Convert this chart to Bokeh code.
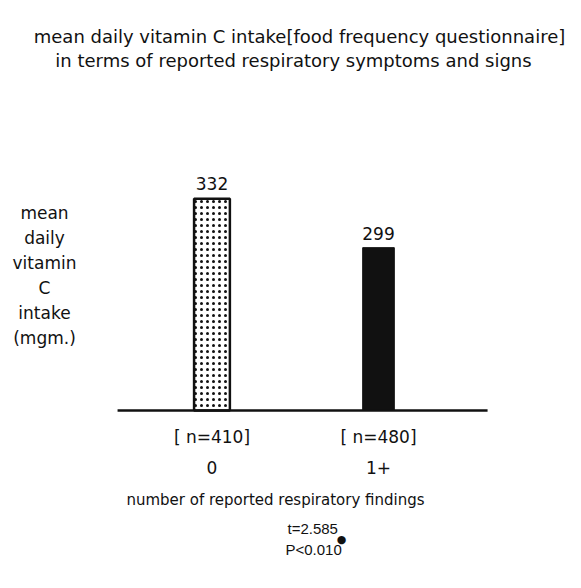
from bokeh.plotting import figure
from bokeh.models import Range1d, Label, ColumnDataSource
from bokeh.core.properties import value
from bokeh.embed import file_html
from bokeh.resources import INLINE

# ---- data ----
categories = ["0", "1+"]
n_labels = ["[ n=410]", "[ n=480]"]
means = [332, 299]
baseline_value = 189
title_lines = ["mean daily vitamin C intake[food frequency questionnaire]",
               "in terms of reported respiratory symptoms and signs"]
ylabel_lines = ["mean", "daily", "vitamin", "C", "intake", "(mgm.)"]
xlabel = "number of reported respiratory findings"
stats_lines = ["t=2.585", "P<0.010"]

W, H = 565, 572
FONT = "DejaVu Sans"
INK = "#111111"

def sx(px):
    return px

def sy(py):
    return H - py

p = figure(width=W, height=H, x_range=Range1d(-1.270, 2.123), y_range=Range1d(79.5, 466.0),
           output_backend="svg", toolbar_location=None,
           x_axis_location=None, y_axis_location=None, min_border=0)
p.outline_line_color = None
p.background_fill_color = "white"
p.border_fill_color = "white"
p.grid.visible = False

xs = list(range(len(categories)))

# bar 1: white stippled with outline
p.vbar(x=[xs[0]], top=[means[0]], bottom=baseline_value, width=0.215,
       fill_color="white", line_color=INK, line_width=2.5,
       hatch_pattern="dot", hatch_color=INK, hatch_scale=6, hatch_weight=1.2)
# bar 2: solid dark
p.vbar(x=[xs[1]], top=[means[1]], bottom=baseline_value, width=0.19,
       fill_color=INK, line_color=INK, line_width=1)

# baseline
p.segment(x0=[-0.567], y0=[baseline_value], x1=[1.655], y1=[baseline_value],
          line_color=INK, line_width=2.5)

# value labels
src = ColumnDataSource(dict(x=xs, y=means, t=[str(v) for v in means],
                            off=[-9, -8]))
p.text(x="x", y="y", text="t", source=src, text_align="center", text_baseline="bottom",
       y_offset="off", text_font=value(FONT), text_font_size="17px", text_color=INK)

def add_label(text, x, y, size="15px", x_units="screen", align="center", font=FONT):
    p.add_layout(Label(x=x, y=y, x_units=x_units, y_units="screen", text=text,
                       text_align=align, text_baseline="middle", text_font=font,
                       text_font_size=size, text_color=INK))

# title
add_label(title_lines[0], sx(299), sy(36), size="18px")
add_label(title_lines[1], sx(293), sy(60), size="18px")

# y label lines
for i, line in enumerate(ylabel_lines):
    add_label(line, sx(44), sy(212 + 25 * i), size="17px")

# n labels and category labels
for i in xs:
    add_label(n_labels[i], i, sy(436), size="17px", x_units="data")
    add_label(categories[i], i, sy(467), size="17px", x_units="data")

add_label(xlabel, sx(275), sy(499), size="15px")

# stats
add_label(stats_lines[0], sx(287), sy(528), size="15px", align="left", font="Liberation Sans")
add_label(stats_lines[1], sx(285), sy(549), size="15px", align="left", font="Liberation Sans")
add_label("\u25CF", sx(341), sy(539), size="11px")

open("out.html", "w").write(file_html(p, INLINE))
